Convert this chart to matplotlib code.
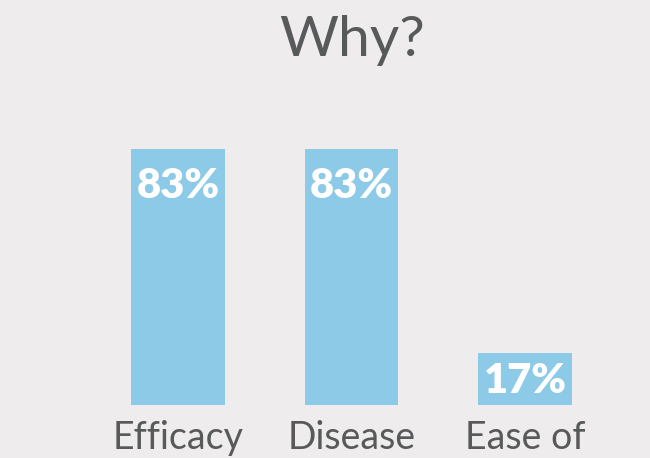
import matplotlib
matplotlib.use("Agg")
import matplotlib.pyplot as plt

categories = ["Efficacy", "Disease", "Ease of"]
values = [83, 83, 17]
title = "Why?"

bg = "#EEECED"
bar_color = "#8DCAE8"
text_color = "#58595B"

fig = plt.figure(figsize=(6.5, 4.58), dpi=100, facecolor=bg)
ax = fig.add_axes([0, 0, 1, 1])
ax.set_facecolor(bg)

xs = list(range(len(categories)))
ax.bar(xs, values, width=0.54, color=bar_color)

unit_x = 173.5
ax.set_xlim(-178 / unit_x, (650 - 178) / unit_x)
py = 256 / 83.0
ax.set_ylim(-53 / py, 405 / py)
ax.axis("off")

for x, v in zip(xs, values):
    yc = max(v - 12, v * 0.46)
    ax.text(x, yc, f"{v}%", ha="center", va="center", color="white",
            fontsize=30, fontweight="heavy", family="Lato")

for x, c in zip(xs, categories):
    ax.text(x, -33 / py, c, ha="center", va="center", color=text_color,
            fontsize=27, family="Lato")

ax.text(1, 365 / py, title, ha="center", va="center", color=text_color,
        fontsize=41, family="Lato")

fig.savefig("out.png", dpi=100, facecolor=bg)
